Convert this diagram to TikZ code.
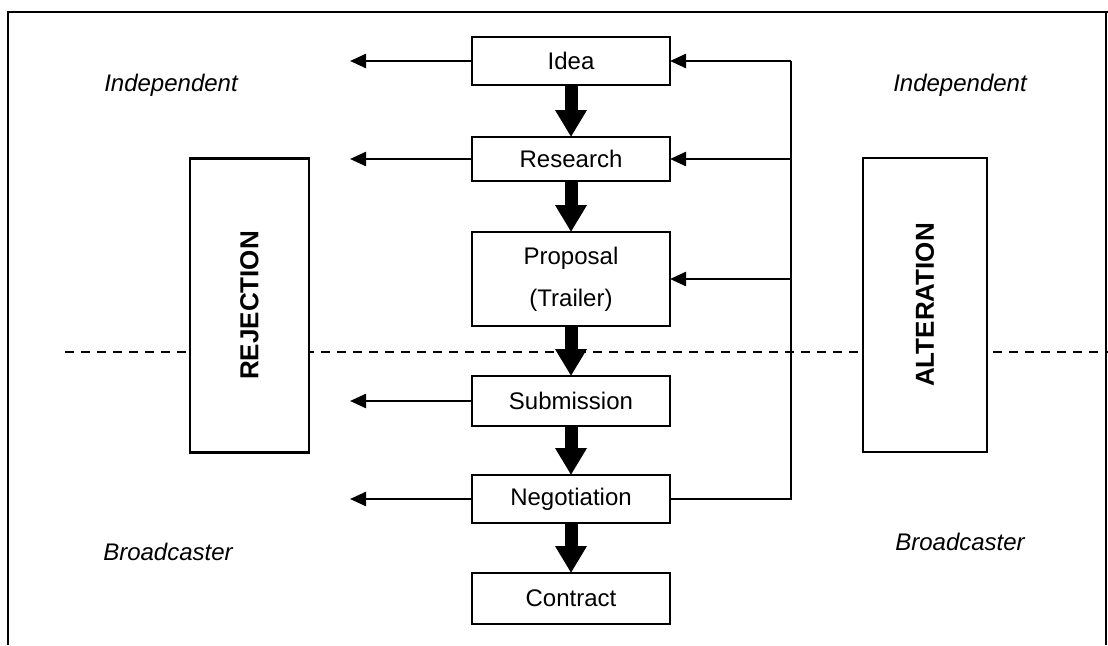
\documentclass[tikz,border=0pt]{standalone}
\usepackage{fontspec}
\setmainfont{Liberation Sans}
\usetikzlibrary{arrows.meta}
\begin{document}
\begin{tikzpicture}[x=1pt,y=-1pt,
  stagebox/.style={draw,line width=2.8pt,fill=white,inner sep=0pt,outer sep=0pt,
    minimum width=198pt,font=\fontsize{24}{28}\selectfont,align=center},
  sidebox/.style={draw,line width=2.8pt,fill=white,inner sep=0pt,outer sep=0pt,
    minimum width=119pt,minimum height=294pt},
  sidetext/.style={font=\fontsize{26}{30}\selectfont\bfseries,rotate=90},
  label/.style={font=\fontsize{24}{28}\selectfont\itshape},
  thin/.style={line width=2.4pt,-{Triangle[length=16pt,width=14pt]}},
  plain/.style={line width=2.4pt},
  thick/.style={line width=13pt,-{Triangle[length=27pt,width=30pt]}},
  frame/.style={line width=2.8pt}]
\useasboundingbox (0,0) rectangle (1108,645);
% frame
\draw[frame] (8,645) -- (8,12) -- (1108,12);
\draw[frame] (1106,12) -- (1106,645);
% dashed divider
\draw[line width=2.2pt,dash pattern=on 9pt off 7pt] (65,352) -- (1108,352);
% side boxes
\node[sidebox] (rej) at (249.5,305.5) {};
\node[sidetext] at (rej.center) {REJECTION};
\node[sidebox,minimum width=124pt] (alt) at (925,305) {};
\node[sidetext] at (alt.center) {ALTERATION};
% stage boxes
\node[stagebox,minimum height=48pt] (idea) at (571,61) {Idea};
\node[stagebox,minimum height=44pt] (res) at (571,159) {Research};
\node[stagebox,minimum height=94pt] (prop) at (571,279) {Proposal\\[14pt](Trailer)};
\node[stagebox,minimum height=50pt] (sub) at (571,401) {Submission};
\node[stagebox,minimum height=48pt] (neg) at (571,499) {Negotiation};
\node[stagebox,minimum height=51pt] (con) at (571,598.5) {Contract};
% labels
\node[label] (indL) at (171,85) {Independent};
\node[label] (indR) at (960,85) {Independent};
\node[label] (brL) at (168,552) {Broadcaster};
\node[label] (brR) at (960,542) {Broadcaster};
% main flow
\draw[thick] (idea.south) -- (res.north);
\draw[thick] (res.south) -- (prop.north);
\draw[thick] (prop.south) -- (sub.north);
\draw[thick] (sub.south) -- (neg.north);
\draw[thick] (neg.south) -- (con.north);
% rejection arrows
\coordinate (r1) at (350,61);
\coordinate (r2) at (350,159);
\coordinate (r3) at (350,401);
\coordinate (r4) at (350,499);
\draw[thin] (idea.west) -- (r1);
\draw[thin] (res.west) -- (r2);
\draw[thin] (sub.west) -- (r3);
\draw[thin] (neg.west) -- (r4);
% feedback loop
\coordinate (f1) at (791,61);
\coordinate (f2) at (791,159);
\coordinate (f3) at (791,279);
\coordinate (f4) at (791,499);
\draw[plain] (neg.east) -- (f4) -- (f1);
\draw[thin] (f1) -- (idea.east);
\draw[thin] (f2) -- (res.east);
\draw[thin] (f3) -- (prop.east);
\end{tikzpicture}
\end{document}
